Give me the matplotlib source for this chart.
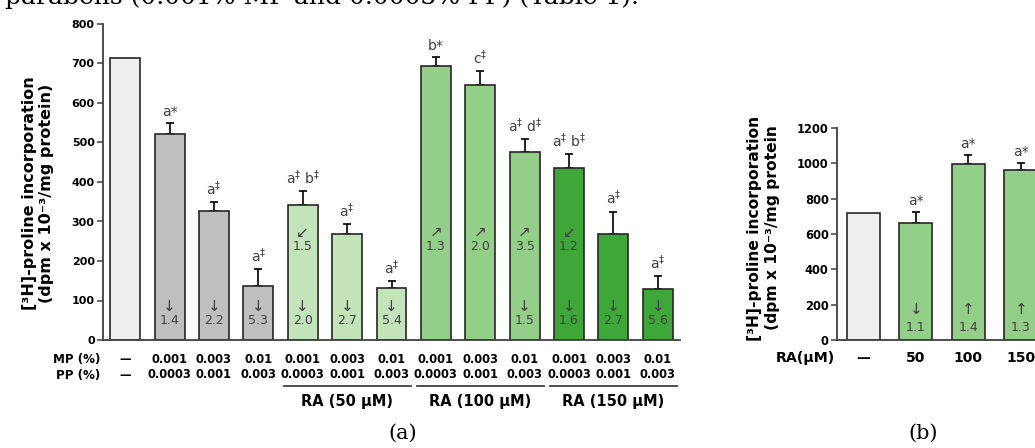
import numpy as np
import matplotlib.pyplot as plt
from matplotlib.transforms import blended_transform_factory

plt.rcParams['font.family'] = ['DejaVu Sans']

# panel (a) data
mp = ['—', '0.001', '0.003', '0.01', '0.001', '0.003', '0.01',
      '0.001', '0.003', '0.01', '0.001', '0.003', '0.01']
pp = ['—', '0.0003', '0.001', '0.003', '0.0003', '0.001', '0.003',
      '0.0003', '0.001', '0.003', '0.0003', '0.001', '0.003']
vals_a = [715, 521, 326, 136, 341, 268, 132, 694, 646, 476, 436, 269, 128]
err_a = [0, 28, 23, 43, 36, 25, 18, 23, 34, 33, 35, 56, 34]
sig_a = ['', 'a*', r'a$^{\ddag}$', r'a$^{\ddag}$', r'a$^{\ddag}$ b$^{\ddag}$',
         r'a$^{\ddag}$', r'a$^{\ddag}$', 'b*', r'c$^{\ddag}$',
         r'a$^{\ddag}$ d$^{\ddag}$', r'a$^{\ddag}$ b$^{\ddag}$',
         r'a$^{\ddag}$', r'a$^{\ddag}$']
fold_low = ['', '1.4', '2.2', '5.3', '2.0', '2.7', '5.4', '', '', '1.5', '1.6', '2.7', '5.6']
arrow_mid = ['', '', '', '', '↙', '', '', '↗', '↗', '↗', '↙', '', '']
fold_mid = ['', '', '', '', '1.5', '', '', '1.3', '2.0', '3.5', '1.2', '', '']
groups = ['RA (50 µM)', 'RA (100 µM)', 'RA (150 µM)']
group_mid = [5, 8, 11]

# panel (b) data
ra_b = ['—', '50', '100', '150']
vals_b = [720, 662, 996, 962]
err_b = [0, 64, 51, 41]
sig_b = ['', 'a*', 'a*', 'a*']
arrow_b = ['', '↓', '↑', '↑']
fold_b = ['', '1.1', '1.4', '1.3']

c_ctrl = '#efefef'
c_gray = '#bfbfbf'
c_g1 = '#c3e3ba'
c_g2 = '#93cf88'
c_g3 = '#3fa63a'
cols_a = [c_ctrl] + [c_gray] * 3 + [c_g1] * 3 + [c_g2] * 3 + [c_g3] * 3
cols_b = [c_ctrl, c_g2, c_g2, c_g2]
ec = '#262626'
tc = '#404040'

W, H = 1035, 448
fig = plt.figure(figsize=(W / 100, H / 100), dpi=100)

def fy(py):
    return 1 - py / H

fig.text(5 / W, fy(4), 'parabens (0.001% MP and 0.0003% PP) (Table 1).',
         family='DejaVu Serif', fontsize=18, va='baseline', ha='left')

# ---------- panel (a)
ax = fig.add_axes([103 / W, fy(340), 577 / W, 316 / H])
x = np.arange(len(vals_a))
ax.bar(x, vals_a, width=0.675, color=cols_a, edgecolor=ec, linewidth=1.2, zorder=2)
idx = [i for i in x if err_a[i] > 0]
ax.errorbar(x[idx], np.array(vals_a)[idx],
            yerr=[np.zeros(len(idx)), np.array(err_a)[idx]],
            fmt='none', ecolor='black', elinewidth=1.2, capsize=3, capthick=1.2, zorder=1)
for i in x:
    if sig_a[i]:
        ax.annotate(sig_a[i], (i, vals_a[i] + err_a[i]), xytext=(0, 3),
                    textcoords='offset points', ha='center', va='bottom',
                    fontsize=10, color=tc)
    if fold_low[i]:
        ax.text(i, 86, '↓', ha='center', va='center', fontsize=11, color=tc)
        ax.text(i, 50, fold_low[i], ha='center', va='center', fontsize=9, color=tc)
    if fold_mid[i]:
        ax.text(i, 273, arrow_mid[i], ha='center', va='center', fontsize=11, color=tc)
        ax.text(i, 236, fold_mid[i], ha='center', va='center', fontsize=9, color=tc)

ax.set_xlim(-0.5, 12.5)
ax.set_ylim(0, 800)
ax.set_yticks(range(0, 801, 100))
ax.set_xticks([])
for lab in ax.get_yticklabels():
    lab.set_fontweight('bold')
ax.tick_params(axis='y', direction='out', length=4, width=1.1, labelsize=8, pad=2,
               color='#404040')
for s in ['top', 'right']:
    ax.spines[s].set_visible(False)
for s in ['left', 'bottom']:
    ax.spines[s].set_linewidth(1.3)
    ax.spines[s].set_color('#404040')

tr = blended_transform_factory(ax.transData, fig.transFigure)
fig.text(100 / W, fy(359), 'MP (%)', ha='right', va='center', fontsize=8.6, fontweight='bold')
fig.text(100 / W, fy(375), 'PP (%)', ha='right', va='center', fontsize=8.6, fontweight='bold')
for i in x:
    ax.text(i, fy(359), mp[i], transform=tr, ha='center', va='center',
            fontsize=8.3, fontweight='bold')
    ax.text(i, fy(375), pp[i], transform=tr, ha='center', va='center',
            fontsize=8.3, fontweight='bold')
for g, m in zip(groups, group_mid):
    ax.plot([m - 1.43, m + 1.43], [fy(386), fy(386)], transform=tr, color='#404040',
            lw=1.3, clip_on=False)
    ax.text(m, fy(401), g, transform=tr, ha='center', va='center', fontsize=10.5,
            fontweight='bold')

fig.text(38 / W, fy(193), '[³H]-proline incorporation\n(dpm x 10⁻³/mg protein)',
         rotation=90, ha='center', va='center', multialignment='center',
         fontsize=11.5, fontweight='bold', linespacing=1.2)
fig.text(403 / W, fy(433), '(a)', family='DejaVu Serif', fontsize=15,
         ha='center', va='center')

# ---------- panel (b)
ax2 = fig.add_axes([837 / W, fy(340), 198 / W, 212 / H])
xb = np.arange(len(vals_b))
ax2.bar(xb, vals_b, width=0.63, color=cols_b, edgecolor=ec, linewidth=1.2, zorder=2)
ib = [i for i in xb if err_b[i] > 0]
ax2.errorbar(xb[ib], np.array(vals_b)[ib],
             yerr=[np.zeros(len(ib)), np.array(err_b)[ib]],
             fmt='none', ecolor='black', elinewidth=1.2, capsize=3, capthick=1.2, zorder=1)
for i in xb:
    if sig_b[i]:
        ax2.annotate(sig_b[i], (i, vals_b[i] + err_b[i]), xytext=(0, 3),
                     textcoords='offset points', ha='center', va='bottom',
                     fontsize=10, color=tc, annotation_clip=False)
    if fold_b[i]:
        ax2.text(i, 170, arrow_b[i], ha='center', va='center', fontsize=11, color=tc)
        ax2.text(i, 68, fold_b[i], ha='center', va='center', fontsize=9, color=tc)
ax2.set_xlim(-0.505, 3.27)
ax2.set_ylim(0, 1200)
ax2.set_yticks(range(0, 1201, 200))
ax2.set_xticks([])
for lab in ax2.get_yticklabels():
    lab.set_fontweight('bold')
ax2.tick_params(axis='y', direction='out', length=4, width=1.1, labelsize=8.3, pad=2,
                color='#404040')
for s in ['top', 'right']:
    ax2.spines[s].set_visible(False)
for s in ['left', 'bottom']:
    ax2.spines[s].set_linewidth(1.3)
    ax2.spines[s].set_color('#404040')

tr2 = blended_transform_factory(ax2.transData, fig.transFigure)
fig.text(835 / W, fy(358), 'RA(µM)', ha='right', va='center', fontsize=10.2, fontweight='bold')
for i in xb:
    ax2.text(i, fy(358), ra_b[i], transform=tr2, ha='center', va='center',
             fontsize=10, fontweight='bold')
fig.text(764 / W, fy(228), '[³H]-proline incorporation\n(dpm x 10⁻³/mg protein',
         rotation=90, ha='center', va='center', multialignment='center',
         fontsize=11.2, fontweight='bold', linespacing=1.25)
fig.text(923 / W, fy(433), '(b)', family='DejaVu Serif', fontsize=15,
         ha='center', va='center')

fig.savefig('out.png', dpi=100)
